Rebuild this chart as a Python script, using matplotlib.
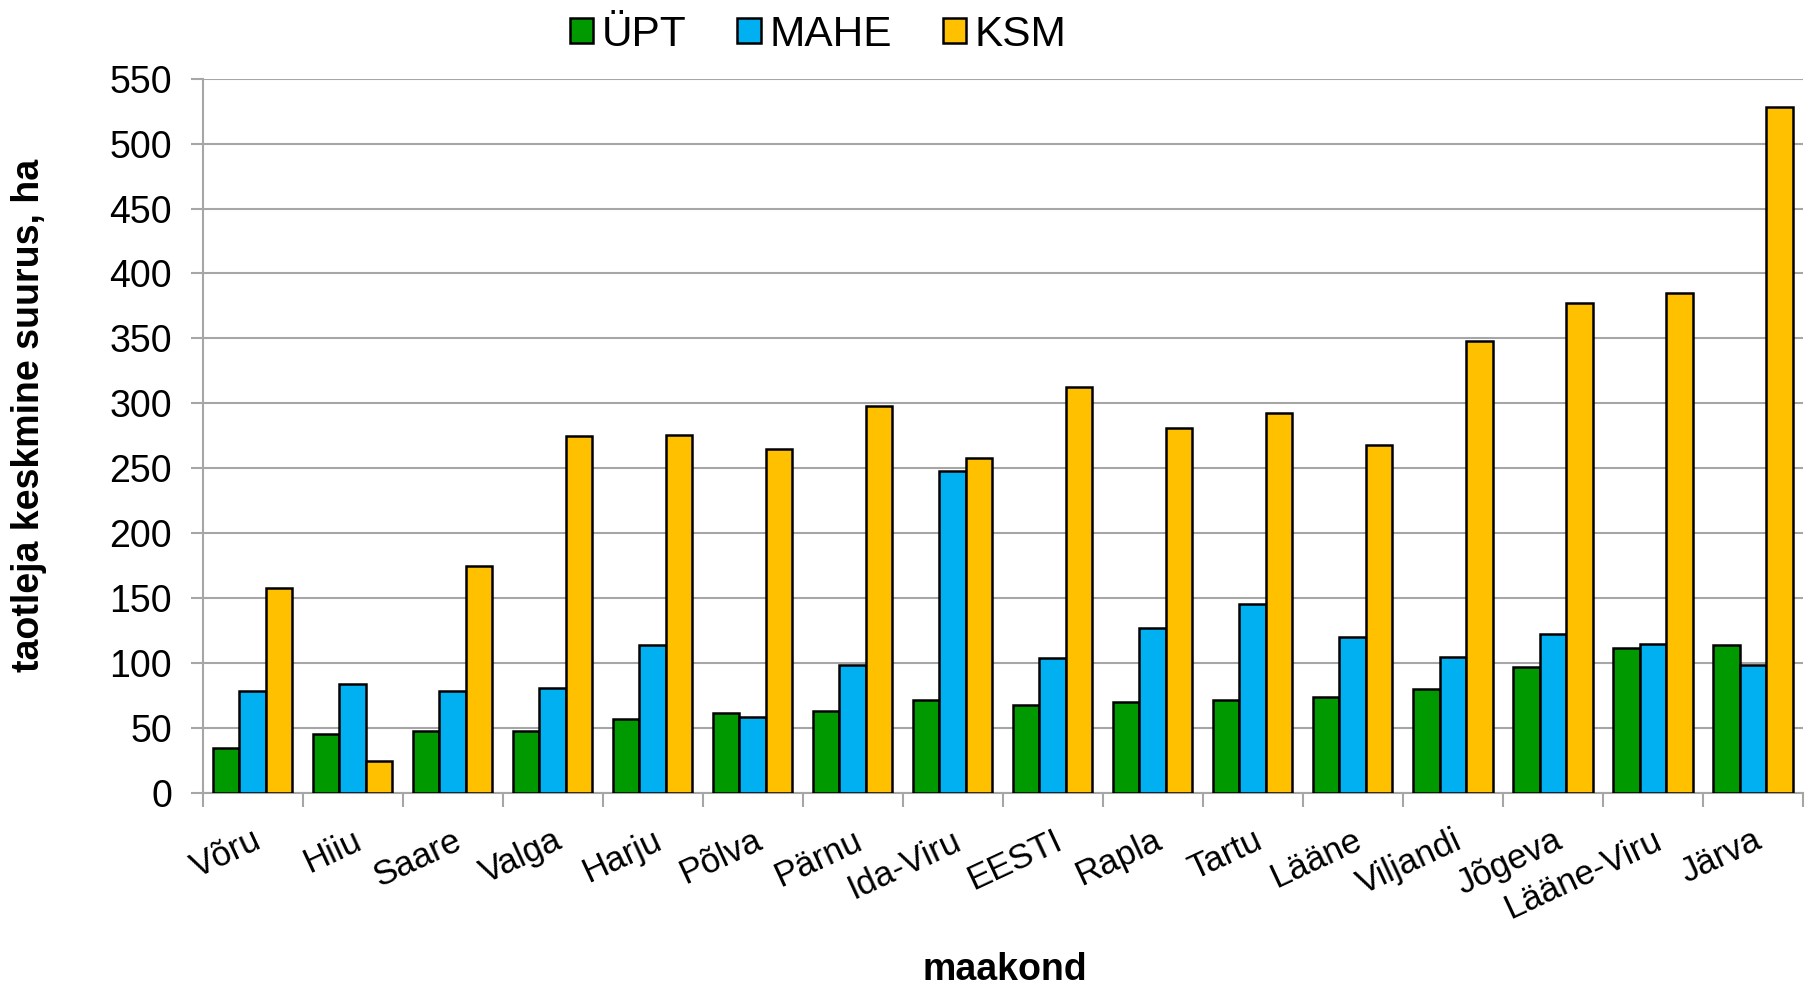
import numpy as np
import matplotlib
matplotlib.use('Agg')
import matplotlib.pyplot as plt
from matplotlib.patches import Patch

plt.rcParams['font.family'] = ['Liberation Sans', 'DejaVu Sans']

maakonnad = ['Võru', 'Hiiu', 'Saare', 'Valga', 'Harju', 'Põlva', 'Pärnu', 'Ida-Viru',
             'EESTI', 'Rapla', 'Tartu', 'Lääne', 'Viljandi', 'Jõgeva', 'Lääne-Viru', 'Järva']
upt = [35, 46, 48, 48, 57, 62, 63, 72, 68, 70, 72, 74, 80, 97, 112, 114]
mahe = [79, 84, 79, 81, 114, 59, 99, 248, 104, 127, 146, 120, 105, 123, 115, 99]
ksm = [158, 25, 175, 275, 276, 265, 298, 258, 313, 281, 293, 268, 348, 377, 385, 528]

series = [('ÜPT', upt, '#009900'), ('MAHE', mahe, '#00B0F0'), ('KSM', ksm, '#FFC000')]
grid_col = '#A6A6A6'

fig = plt.figure(figsize=(18.1, 9.88), dpi=100)
ax = fig.add_axes([0.112, 0.197, 0.884, 0.7235])

x = np.arange(len(maakonnad))
w = 0.265
for i, (name, vals, col) in enumerate(series):
    ax.bar(x + (i - 1) * w, vals, width=w, color=col, edgecolor='black',
           linewidth=1.8, label=name, zorder=3)

ax.set_xlim(-0.5, len(maakonnad) - 0.5)
ax.set_ylim(0, 550)
ax.set_yticks(np.arange(0, 551, 50))
ax.yaxis.grid(True, color=grid_col, linewidth=1.5, zorder=0)

for s in ['top', 'right']:
    ax.spines[s].set_visible(False)
for s in ['left', 'bottom']:
    ax.spines[s].set_color(grid_col)
    ax.spines[s].set_linewidth(1.5)

ax.tick_params(axis='y', labelsize=27, length=9, width=1.5, color=grid_col, pad=13)
ax.set_xticks(x)
ax.set_xticklabels(maakonnad, rotation=25, ha='right', rotation_mode='anchor', fontsize=25)
ax.tick_params(axis='x', which='major', length=0, pad=22)
ax.set_xticks(np.arange(-0.5, len(maakonnad)), minor=True)
ax.tick_params(axis='x', which='minor', length=10, width=1.5, color=grid_col)

fig.text(0.016, 0.58, 'taotleja keskmine suurus, ha', rotation=90, ha='center',
         va='center', fontsize=27, fontweight='bold')
fig.text(0.555, 0.018, 'maakond', ha='center', va='center', fontsize=27, fontweight='bold')

handles = [Patch(facecolor=col, edgecolor='black', linewidth=1.8) for _, _, col in series]
fig.legend(handles, [s[0] for s in series], loc='center', bbox_to_anchor=(0.452, 0.965),
           ncol=3, frameon=False, fontsize=30.5, handlelength=0.55, handleheight=0.55,
           handletextpad=0.2, columnspacing=1.2)

fig.savefig('out.png', dpi=100)
